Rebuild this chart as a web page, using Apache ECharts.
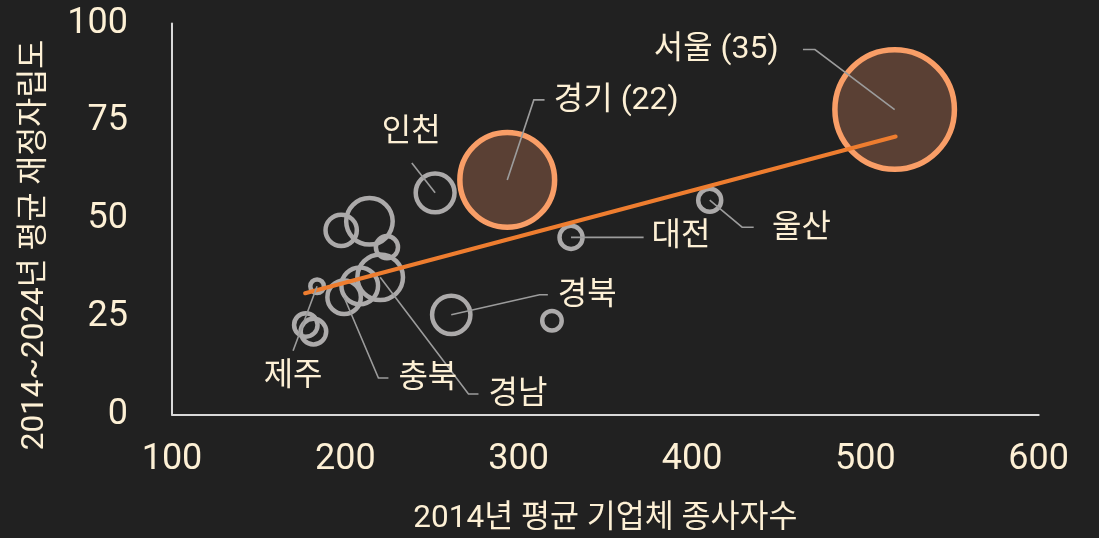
<!DOCTYPE html>
<html><head><meta charset="utf-8">
<script src="https://cdn.jsdelivr.net/npm/echarts@6/dist/echarts.min.js"></script>
<style>html,body{margin:0;padding:0;background:#212121;}#c{width:1099px;height:538px;}</style>
</head><body><div id="c"></div>
<script>
// ---- data ----
const regions     = ['서울','경기','인천','대전','울산','경북','경남','충북','제주','','','','','','',''];
const employees   = [516.9, 293.4, 251.8, 330.2, 410.2, 261.1, 220.1, 199.3, 183.7, 197.6, 213.9, 224.0, 208.3, 177.2, 181.6, 319.2];
const selfReliance= [78.0, 60.0, 56.7, 45.3, 54.8, 25.5, 35.1, 30.0, 32.8, 47.1, 49.4, 42.8, 32.9, 22.9, 21.2, 24.0];
const bubbleValue = [35, 22, 3.7, 1.3, 1.3, 3.6, 5.1, 2.75, 0.45, 2.4, 5.3, 1.2, 3.3, 1.35, 1.6, 0.93];
const highlighted = ['서울','경기'];
const trendX = [176.8, 517.5];
const trendY = [31.0, 71.1];
const xTicks = [100, 200, 300, 400, 500, 600];
const yTicks = [0, 25, 50, 75, 100];

// ---- annotation placement (pixel offsets from each bubble centre) ----
const guides = {
  '서울': {line:[[0,0],[-79.7,-60],[-91.7,-60]], text:[-116,-60], align:'right', showValue:true},
  '경기': {line:[[0,0],[26.6,-80],[37.3,-80]], text:[46.6,-79], align:'left', showValue:true},
  '인천': {line:[[0,0],[-23.3,-29.7]], text:[-24,-60], align:'center'},
  '대전': {line:[[0,0],[72.6,0]], text:[80.5,0], align:'left'},
  '울산': {line:[[0,0],[32.4,27],[44,27]], text:[62.4,28.5], align:'left'},
  '경북': {line:[[0,0],[88.3,-20],[96.6,-20]], text:[106.6,-19], align:'left'},
  '경남': {line:[[0,0],[88.3,116.8],[98.3,116.8]], text:[108.3,117.5], align:'left'},
  '충북': {line:[[0,0],[34.3,80.8],[44.3,80.8]], text:[54.3,81.5], align:'left'},
  '제주': {line:[[0,0],[-24,64.5]], text:[-24,91], align:'center'}
};

const CREAM = '#FDF0D5';
const FONT = 'Roboto, "Noto Sans CJK KR", sans-serif';
const K = 10.1;
const sizeFn = v => 2 * K * Math.sqrt(v[2]);

const grayData = [], hiData = [], labelData = [];
regions.forEach((r, i) => {
  const pt = [employees[i], selfReliance[i], bubbleValue[i], i];
  if (highlighted.includes(r)) hiData.push(pt); else grayData.push(pt);
  if (guides[r]) labelData.push(pt);
});

const chart = echarts.init(document.getElementById('c'), null, {renderer:'canvas'});
chart.setOption({
  backgroundColor: '#212121',
  animation: false,
  grid: {left: 172, right: 60.3, top: 23.5, bottom: 123.5, containLabel: false, outerBoundsMode: 'none'},
  xAxis: {
    type: 'value', min: xTicks[0], max: xTicks[xTicks.length-1], interval: 100,
    axisLine: {show: true, lineStyle: {color: '#D9D9D9', width: 2}},
    axisTick: {show: false}, splitLine: {show: false},
    axisLabel: {color: CREAM, fontSize: 36, fontFamily: FONT, margin: 27},
    name: '2014년 평균 기업체 종사자수', nameLocation: 'middle', nameGap: 89,
    nameTextStyle: {color: CREAM, fontSize: 31.5, fontFamily: FONT}
  },
  yAxis: {
    type: 'value', min: yTicks[0], max: yTicks[yTicks.length-1], interval: 25,
    axisLine: {show: true, lineStyle: {color: '#D9D9D9', width: 2}},
    axisTick: {show: false}, splitLine: {show: false},
    axisLabel: {color: CREAM, fontSize: 36, fontFamily: FONT, margin: 44}
  },
  graphic: [{
    type: 'text', x: 35, y: 245, rotation: Math.PI / 2,
    style: {text: '2014~2024년 평균 재정자립도', fill: CREAM, font: '31.5px ' + FONT, align: 'center', verticalAlign: 'middle'}
  }],
  series: [
    {type: 'scatter', data: grayData, symbol: 'circle', symbolSize: sizeFn, z: 2,
     itemStyle: {color: 'rgba(0,0,0,0)', borderColor: '#ACAAAA', borderWidth: 4.5, opacity: 1},
     emphasis: {disabled: true}},
    {type: 'scatter', data: hiData, symbol: 'circle', symbolSize: sizeFn, z: 2,
     itemStyle: {color: '#5A4034', borderColor: '#F99E67', borderWidth: 5.5, opacity: 1},
     emphasis: {disabled: true}},
    {type: 'line', data: trendX.map((x, i) => [x, trendY[i]]), symbol: 'none', z: 3,
     lineStyle: {color: '#EE7D2F', width: 4, cap: 'round'}, silent: true},
    {type: 'custom', coordinateSystem: 'cartesian2d', data: labelData, z: 4, silent: true,
     renderItem: function (params, api) {
       const i = api.value(3);
       const name = regions[i];
       const g = guides[name];
       const c = api.coord([api.value(0), api.value(1)]);
       const pts = g.line.map(p => [c[0] + p[0], c[1] + p[1]]);
       const txt = g.showValue ? name + ' (' + bubbleValue[i] + ')' : name;
       return {type: 'group', children: [
         {type: 'polyline', shape: {points: pts}, style: {stroke: '#9C9C9C', lineWidth: 1.6, fill: null}},
         {type: 'text', x: c[0] + g.text[0], y: c[1] + g.text[1],
          style: {text: txt, fill: CREAM, font: '32px ' + FONT, align: g.align, verticalAlign: 'middle'}}
       ]};
     }}
  ]
});
</script></body></html>
